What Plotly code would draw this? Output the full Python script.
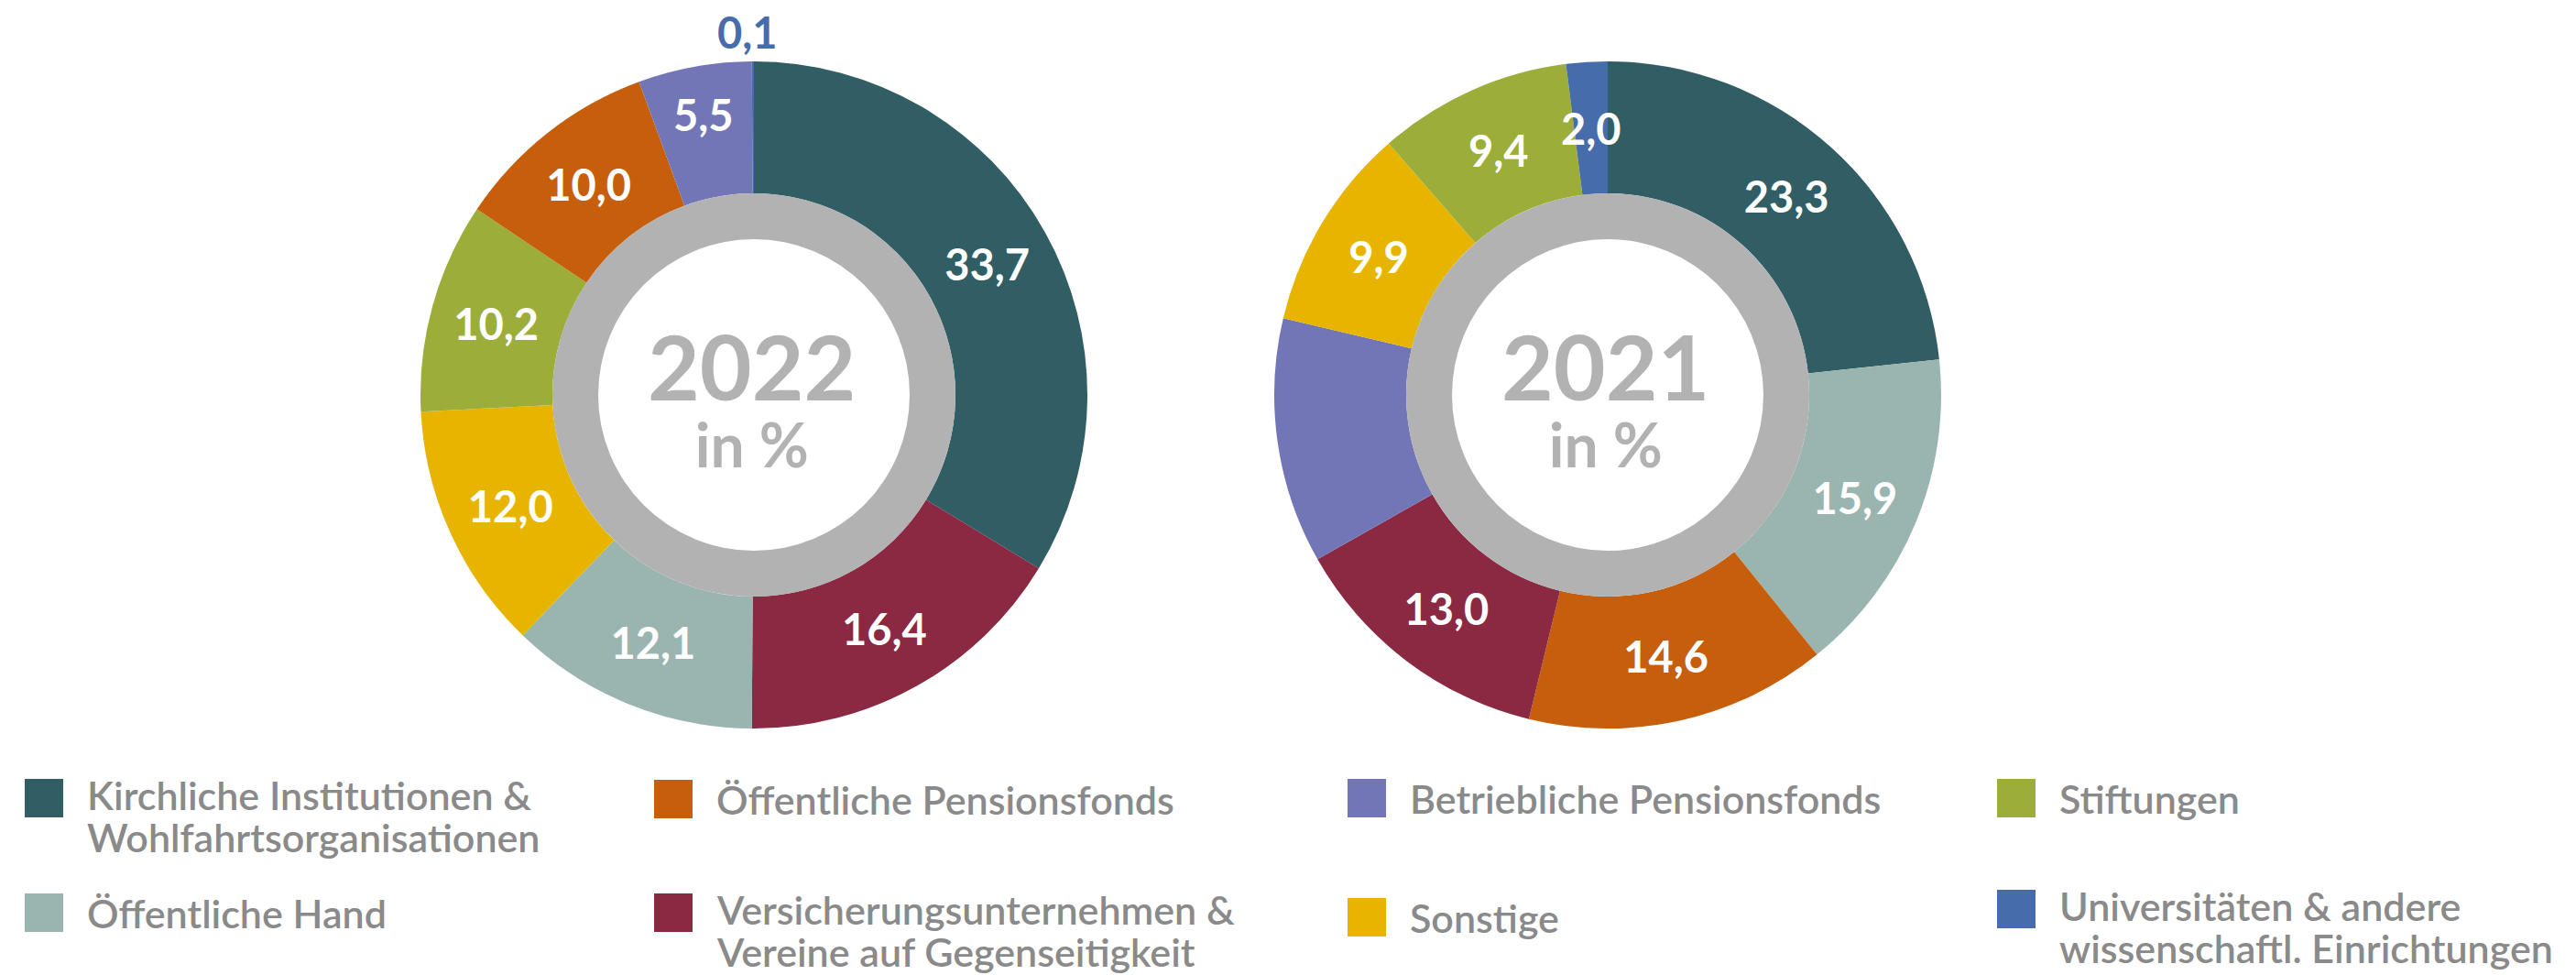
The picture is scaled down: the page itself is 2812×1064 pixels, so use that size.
import math
import plotly.graph_objects as go

# ---------------- data ----------------
categories = [
    "Kirchliche Institutionen & Wohlfahrtsorganisationen",
    "Öffentliche Pensionsfonds",
    "Betriebliche Pensionsfonds",
    "Stiftungen",
    "Öffentliche Hand",
    "Versicherungsunternehmen & Vereine auf Gegenseitigkeit",
    "Sonstige",
    "Universitäten & andere wissenschaftl. Einrichtungen",
]
legend_lines = [
    ["Kirchliche Institutionen &", "Wohlfahrtsorganisationen"],
    ["Öffentliche Pensionsfonds"],
    ["Betriebliche Pensionsfonds"],
    ["Stiftungen"],
    ["Öffentliche Hand"],
    ["Versicherungsunternehmen &", "Vereine auf Gegenseitigkeit"],
    ["Sonstige"],
    ["Universitäten & andere", "wissenschaftl. Einrichtungen"],
]
colors = {
    categories[0]: "#305E64",
    categories[1]: "#C65E0B",
    categories[2]: "#7276B6",
    categories[3]: "#9CAD3A",
    categories[4]: "#9AB4AF",
    categories[5]: "#8A2941",
    categories[6]: "#E7B500",
    categories[7]: "#476CAB",
}

order_2022 = [categories[i] for i in [0, 5, 4, 6, 3, 1, 2, 7]]
values_2022 = [33.7, 16.4, 12.1, 12.0, 10.2, 10.0, 5.5, 0.1]
labelmode_2022 = ["in", "in", "in", "in", "in", "in", "in", "out"]

order_2021 = [categories[i] for i in [0, 4, 1, 5, 2, 6, 3, 7]]
values_2021 = [23.3, 15.9, 14.6, 13.0, 11.9, 9.9, 9.4, 2.0]
labelmode_2021 = ["in", "in", "in", "in", "none", "in", "in", "over"]

years = ["2022", "2021"]

# ---------------- layout constants ----------------
W, H = 2812, 1064
OFF = 8  # page body margin
R = 364
RING_OUT = 220
RING_IN = 170
centers = [(823, 431), (1755, 431)]
GRAY = "#B2B2B2"
TEXT_GRAY = "#8A8A8A"
LABEL_SIZE = 47


def fx(x):
    return (x - OFF) / W


def fy(y):
    return 1 - (y - OFF) / H


def fmt(v):
    return f"{v:.1f}".replace(".", ",")


fig = go.Figure()
shapes = []
annotations = []

datasets = [
    (order_2022, values_2022, labelmode_2022),
    (order_2021, values_2021, labelmode_2021),
]

for (order, vals, modes), (cx, cy), year in zip(datasets, centers, years):
    texts = [fmt(v) if m == "in" else "" for v, m in zip(vals, modes)]
    fig.add_trace(
        go.Pie(
            labels=order,
            values=vals,
            text=texts,
            textinfo="text",
            textposition="inside",
            insidetextorientation="horizontal",
            textfont=dict(family="Lato", size=LABEL_SIZE, color="white", weight="bold"),
            marker=dict(colors=[colors[c] for c in order], line=dict(width=0)),
            hole=RING_OUT / R,
            sort=False,
            direction="clockwise",
            rotation=0,
            domain=dict(x=[fx(cx - R), fx(cx + R)], y=[fy(cy + R), fy(cy - R)]),
            showlegend=False,
            hoverinfo="label+value",
        )
    )
    # gray ring + white center
    shapes.append(dict(type="circle", xref="paper", yref="paper",
                       x0=fx(cx - RING_OUT), x1=fx(cx + RING_OUT),
                       y0=fy(cy + RING_OUT), y1=fy(cy - RING_OUT),
                       fillcolor=GRAY, line=dict(width=0), layer="above"))
    shapes.append(dict(type="circle", xref="paper", yref="paper",
                       x0=fx(cx - RING_IN), x1=fx(cx + RING_IN),
                       y0=fy(cy + RING_IN), y1=fy(cy - RING_IN),
                       fillcolor="white", line=dict(width=0), layer="above"))
    # center text (one block, two sizes)
    annotations.append(dict(
        x=fx(cx - 3), y=fy(432), xref="paper", yref="paper",
        text=f"<span style='font-size:98px'>{year}</span><br><span style='font-size:66px'>in %</span>",
        showarrow=False, xanchor="center", yanchor="middle", align="center",
        font=dict(family="Lato", size=56, color=GRAY, weight="bold")))
    # labels for tiny slices, placed along the slice bisector
    total = sum(vals)
    cum = 0
    for c, v, m in zip(order, vals, modes):
        mid = (cum + v / 2) / total * 2 * math.pi
        cum += v
        if m == "out":
            rl, col = R + 32, colors[c]
        elif m == "over":
            rl, col = (R + RING_OUT) / 2, "white"
        else:
            continue
        x = cx + rl * math.sin(mid)
        y = cy - rl * math.cos(mid)
        annotations.append(dict(x=fx(x - 6 if m == "out" else x), y=fy(y), xref="paper", yref="paper",
                                text=fmt(v), showarrow=False, xanchor="center", yanchor="middle",
                                font=dict(family="Lato", size=LABEL_SIZE, color=col, weight="bold")))

# ---------------- custom legend ----------------
SQ = 42
col_x = [27, 714, 1471, 2180]
text_dx = 66
legend_grid = [  # (category index, column, square top)
    (0, 0, 850), (1, 1, 851), (2, 2, 850), (3, 3, 850),
    (4, 0, 975), (5, 1, 975), (6, 2, 980), (7, 3, 971),
]
for ci, col, top in legend_grid:
    x0 = col_x[col]
    shapes.append(dict(type="rect", xref="paper", yref="paper",
                       x0=fx(x0), x1=fx(x0 + SQ), y0=fy(top + SQ), y1=fy(top),
                       fillcolor=colors[categories[ci]], line=dict(width=0), layer="above"))
    lines = legend_lines[ci]
    first = top + SQ / 2 - (4 if len(lines) > 1 else 0)
    for li, line in enumerate(lines):
        annotations.append(dict(x=fx(x0 + text_dx), y=fy(first + 46 * li), xref="paper", yref="paper",
                                text=line, showarrow=False, xanchor="left", yanchor="middle",
                                font=dict(family="Lato", size=43, color=TEXT_GRAY, weight=600)))

fig.update_layout(
    width=W, height=H,
    margin=dict(l=0, r=0, t=0, b=0),
    paper_bgcolor="white", plot_bgcolor="white",
    shapes=shapes, annotations=annotations,
    uniformtext=dict(minsize=LABEL_SIZE, mode="show"),
    showlegend=False,
)

fig.write_html("out.html")
